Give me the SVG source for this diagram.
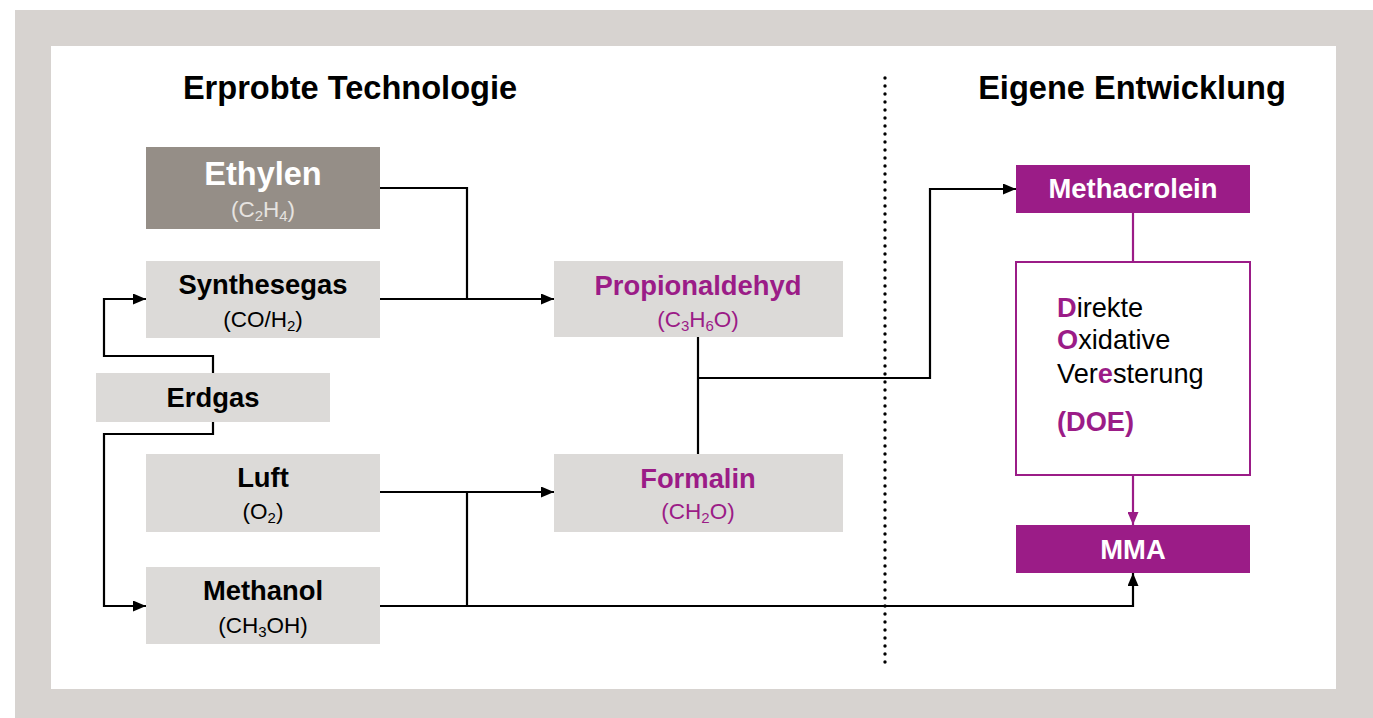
<svg xmlns="http://www.w3.org/2000/svg" width="1373" height="718" viewBox="0 0 1373 718">
  <style>
    text { font-family: "Liberation Sans", Arial, sans-serif; text-anchor: middle; }
    .title { font-size: 32.6px; font-weight: bold; fill: #000; }
    .lbl { font-size: 27.4px; font-weight: bold; fill: #000; }
    .sub { font-size: 22.5px; fill: #000; }
    .doe { font-size: 27.2px; fill: #000; text-anchor: start; }
    .purple { fill: #9b1c87; }
    .white { fill: #fff; }
    .box { fill: #dcdad8; }
    .dark { fill: #958e87; }
    .pbox { fill: #9b1c87; }
    .line { fill: none; stroke: #000; stroke-width: 2.2; }
    .pline { fill: none; stroke: #9b1c87; stroke-width: 2.2; }
  </style>
  <defs>
    <marker id="arr" markerUnits="userSpaceOnUse" markerWidth="13" markerHeight="11" refX="13" refY="5.5" orient="auto">
      <path d="M0,0 L13,5.5 L0,11 z" fill="#000"/>
    </marker>
    <marker id="parr" markerUnits="userSpaceOnUse" markerWidth="13" markerHeight="11" refX="13" refY="5.5" orient="auto">
      <path d="M0,0 L13,5.5 L0,11 z" fill="#9b1c87"/>
    </marker>
  </defs>

  <!-- frame -->
  <rect x="15" y="10" width="1358" height="708" fill="#d7d3d0"/>
  <rect x="51" y="46" width="1285" height="643" fill="#fff"/>

  <!-- section headings -->
  <text class="title" x="350" y="99">Erprobte Technologie</text>
  <text class="title" x="1132" y="99">Eigene Entwicklung</text>

  <!-- divider -->
  <line x1="885" y1="78" x2="885" y2="665" stroke="#000" stroke-width="3.4" stroke-linecap="round" stroke-dasharray="0 8"/>

  <!-- connectors -->
  <g id="connectors">
    <path class="line" d="M380,188 H467 V299"/>
    <path class="line" d="M380,299 H554" marker-end="url(#arr)"/>
    <path class="line" d="M213,373 V356 H104 V299 H146" marker-end="url(#arr)"/>
    <path class="line" d="M213,422 V434 H104 V606 H146" marker-end="url(#arr)"/>
    <path class="line" d="M380,492 H554" stroke-width="3" marker-end="url(#arr)"/>
    <path class="line" d="M467,492 V606"/>
    <path class="line" d="M380,606 H1133 V573" stroke-width="2.6" marker-end="url(#arr)"/>
    <path class="line" d="M698,337 V454" stroke-width="2.6"/>
    <path class="line" d="M698,378 H930 V189 H1016" marker-end="url(#arr)"/>
    <path class="pline" d="M1133,213 V262"/>
    <path class="pline" d="M1133,475 V525" marker-end="url(#parr)"/>
  </g>

  <g id="ethylen">
    <rect class="dark" x="146" y="147" width="234" height="82"/>
    <text class="white" x="263" y="185" font-size="32.5" font-weight="bold">Ethylen</text>
    <text class="sub" x="263" y="217" style="fill:#e6e3e0">(C<tspan font-size="15" dy="4">2</tspan><tspan dy="-4">H</tspan><tspan font-size="15" dy="4">4</tspan><tspan dy="-4">)</tspan></text>
  </g>

  <g id="synthesegas">
    <rect class="box" x="146" y="261" width="234" height="77"/>
    <text class="lbl" x="263" y="294">Synthesegas</text>
    <text class="sub" x="263" y="327">(CO/H<tspan font-size="15" dy="4">2</tspan><tspan dy="-4">)</tspan></text>
  </g>

  <g id="erdgas">
    <rect class="box" x="96" y="373" width="234" height="49"/>
    <text class="lbl" x="213" y="407">Erdgas</text>
  </g>

  <g id="luft">
    <rect class="box" x="146" y="454" width="234" height="78"/>
    <text class="lbl" x="263" y="487">Luft</text>
    <text class="sub" x="263" y="519">(O<tspan font-size="15" dy="4">2</tspan><tspan dy="-4">)</tspan></text>
  </g>

  <g id="methanol">
    <rect class="box" x="146" y="567" width="234" height="77"/>
    <text class="lbl" x="263" y="600">Methanol</text>
    <text class="sub" x="263" y="633">(CH<tspan font-size="15" dy="4">3</tspan><tspan dy="-4">OH)</tspan></text>
  </g>

  <g id="propionaldehyd">
    <rect class="box" x="554" y="261" width="289" height="76"/>
    <text class="lbl purple" x="698" y="295">Propionaldehyd</text>
    <text class="sub purple" x="698" y="327">(C<tspan font-size="15" dy="4">3</tspan><tspan dy="-4">H</tspan><tspan font-size="15" dy="4">6</tspan><tspan dy="-4">O)</tspan></text>
  </g>

  <g id="formalin">
    <rect class="box" x="554" y="454" width="289" height="78"/>
    <text class="lbl purple" x="698" y="488">Formalin</text>
    <text class="sub purple" x="698" y="519">(CH<tspan font-size="15" dy="4">2</tspan><tspan dy="-4">O)</tspan></text>
  </g>

  <g id="methacrolein">
    <rect class="pbox" x="1016" y="165" width="234" height="48"/>
    <text class="lbl white" x="1133" y="198">Methacrolein</text>
  </g>

  <g id="doe">
    <rect x="1016" y="262" width="234" height="213" fill="#fff" stroke="#9b1c87" stroke-width="2"/>
    <text class="doe" x="1057" y="317"><tspan class="purple" font-weight="bold">D</tspan>irekte</text>
    <text class="doe" x="1057" y="349"><tspan class="purple" font-weight="bold">O</tspan>xidative</text>
    <text class="doe" x="1057" y="383">Ver<tspan class="purple" font-weight="bold">e</tspan>sterung</text>
    <text class="doe" x="1057" y="431" font-weight="bold" style="fill:#9b1c87">(DOE)</text>
  </g>

  <g id="mma">
    <rect class="pbox" x="1016" y="525" width="234" height="48"/>
    <text class="lbl white" x="1133" y="559">MMA</text>
  </g>
</svg>
